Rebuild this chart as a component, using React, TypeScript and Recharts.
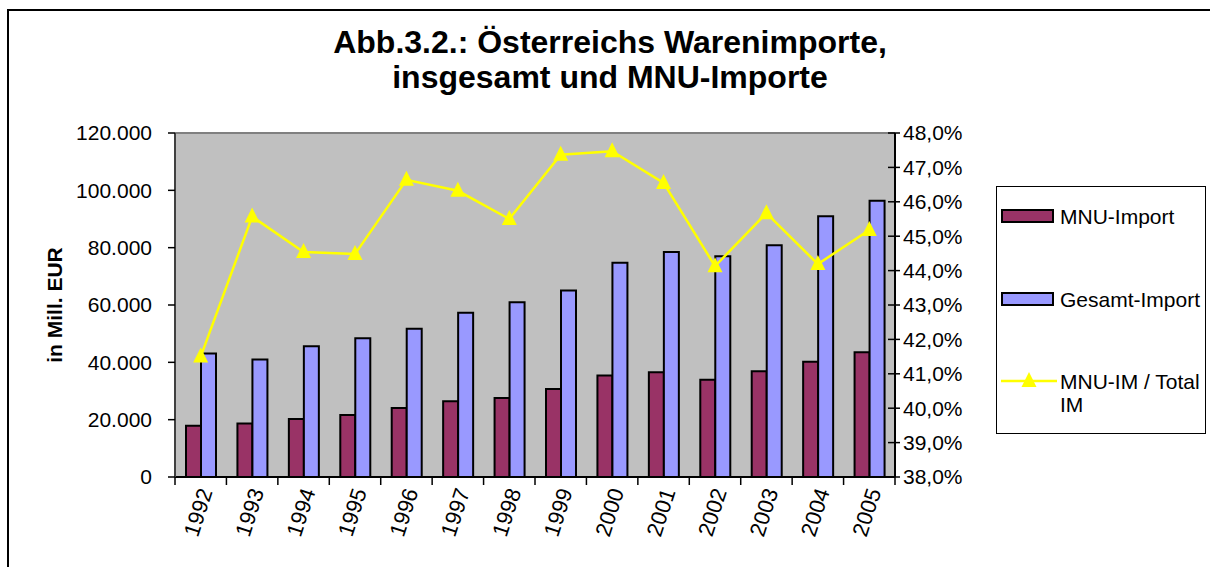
import React from 'react';
import {
  ComposedChart,
  Bar,
  Line,
  XAxis,
  YAxis,
  CartesianGrid,
  ReferenceLine,
  Legend,
} from 'recharts';

const years = ['1992', '1993', '1994', '1995', '1996', '1997', '1998', '1999', '2000', '2001', '2002', '2003', '2004', '2005'];
const mnuImport = [17900, 18700, 20200, 21600, 24100, 26400, 27600, 30700, 35400, 36500, 33900, 36900, 40200, 43500];
const gesamtImport = [43100, 41000, 45600, 48400, 51700, 57300, 61000, 65100, 74700, 78500, 77000, 80800, 91000, 96400];
const mnuShare = [41.5, 45.57, 44.54, 44.48, 46.64, 46.32, 45.5, 47.37, 47.47, 46.55, 44.13, 45.67, 44.19, 45.18];
const leftTicks = [0, 20000, 40000, 60000, 80000, 100000, 120000];
const rightTicks = [38, 39, 40, 41, 42, 43, 44, 45, 46, 47, 48];

const data = years.map((year, i) => ({
  year,
  mnu: mnuImport[i],
  gesamt: gesamtImport[i],
  share: mnuShare[i],
}));

const FONT = '"Liberation Sans", Arial, sans-serif';
const PLOT_W = 720;

const fmtThousands = (v: number) => String(v).replace(/\B(?=(\d{3})+(?!\d))/g, '.');
const fmtPercent = (v: number) => v.toFixed(1).replace('.', ',') + '%';

const YearTick = (props: any) => {
  const { x, y, payload, index, visibleTicksCount } = props;
  const count = visibleTicksCount || years.length;
  const band = (typeof props.width === 'number' ? props.width : PLOT_W) / count;
  const left = x - band / 2;
  const right = x + band / 2;
  const ax = x + 5;
  const ay = y + 12;
  return (
    <g>
      <line x1={left} x2={left} y1={y} y2={y + 8} stroke="#000" strokeWidth={1.5} />
      {index === count - 1 && (
        <line x1={right} x2={right} y1={y} y2={y + 8} stroke="#000" strokeWidth={1.5} />
      )}
      <text
        x={ax}
        y={ay}
        transform={`rotate(-72, ${ax}, ${ay})`}
        textAnchor="end"
        dominantBaseline="central"
        fontSize={22}
        fontFamily={FONT}
        fill="#000"
      >
        {payload.value}
      </text>
    </g>
  );
};

// right axis: tick crosses the axis line like in the original spreadsheet chart
const PercentTick = (props: any) => {
  const { x, y, payload } = props;
  const axisX = x - 8;
  return (
    <g>
      <line x1={axisX - 7} x2={axisX} y1={y} y2={y} stroke="#000" strokeWidth={1.5} />
      <text x={x} y={y} dy="0.355em" textAnchor="start" fontSize={21} fontFamily={FONT} fill="#000">
        {fmtPercent(payload.value)}
      </text>
    </g>
  );
};

const Triangle = (props: any) => {
  const { cx, cy, index } = props;
  if (cx == null || cy == null) return null;
  return (
    <polygon
      key={`tri-${index}`}
      points={`${cx},${cy - 9} ${cx + 7.5},${cy + 6} ${cx - 7.5},${cy + 6}`}
      fill="#FFFF00"
    />
  );
};

const AxisTitle = (props: any) => {
  const vb = props.viewBox || { x: 0, y: 133, width: 175, height: 344 };
  const cx = vb.x + 62;
  const cy = vb.y + vb.height / 2;
  return (
    <text
      x={cx}
      y={cy}
      transform={`rotate(-90, ${cx}, ${cy})`}
      textAnchor="middle"
      fontSize={21}
      fontWeight="bold"
      fontFamily={FONT}
      fill="#000"
    >
      in Mill. EUR
    </text>
  );
};

const legendItems = [
  { label: 'MNU-Import', kind: 'bar', color: '#993366', top: 29 },
  { label: 'Gesamt-Import', kind: 'bar', color: '#9999FF', top: 112 },
  { label: 'MNU-IM / Total\nIM', kind: 'line', color: '#FFFF00', top: 194 },
];

const LegendBox = () => (
  <div
    style={{
      position: 'relative',
      width: 210,
      height: 248,
      boxSizing: 'border-box',
      border: '1px solid #000',
      background: '#fff',
      fontFamily: FONT,
      fontSize: 21,
      color: '#000',
    }}
  >
    {legendItems.map((item) => (
      <div key={item.label} style={{ position: 'absolute', left: 0, top: item.top - 11, width: '100%' }}>
        {item.kind === 'bar' ? (
          <div
            style={{
              position: 'absolute',
              left: 4,
              top: 4,
              width: 53,
              height: 14,
              boxSizing: 'border-box',
              border: '2px solid #000',
              background: item.color,
            }}
          />
        ) : (
          <svg style={{ position: 'absolute', left: 3, top: 1 }} width={58} height={20}>
            <line x1={1} x2={57} y1={10} y2={10} stroke={item.color} strokeWidth={2.5} />
            <polygon points="29,1 36.5,16 21.5,16" fill={item.color} />
          </svg>
        )}
        <div style={{ position: 'absolute', left: 63, top: 0, lineHeight: '23px', whiteSpace: 'pre' }}>
          {item.label}
        </div>
      </div>
    ))}
  </div>
);

export default function App() {
  return (
    <div style={{ position: 'absolute', left: 0, top: 0, width: 1210, height: 567, overflow: 'hidden', background: '#fff' }}>
      <div
        style={{
          position: 'absolute',
          left: 7,
          top: 9,
          width: 1220,
          height: 600,
          borderLeft: '2px solid #000',
          borderTop: '2px solid #000',
        }}
      />
      <div
        style={{
          position: 'absolute',
          left: 0,
          top: 25,
          width: 1220,
          textAlign: 'center',
          fontFamily: FONT,
          fontWeight: 'bold',
          fontSize: 32,
          lineHeight: '35px',
          color: '#000',
        }}
      >
        Abb.3.2.: Österreichs Warenimporte,
        <br />
        insgesamt und MNU-Importe
      </div>
      <ComposedChart
        width={1210}
        height={567}
        data={data}
        margin={{ top: 133, right: 220, bottom: 0, left: 0 }}
        barGap={0}
        style={{ position: 'absolute', left: 0, top: 0 }}
      >
        <CartesianGrid fill="#C0C0C0" fillOpacity={1} horizontal={false} vertical={false} />
        <XAxis
          dataKey="year"
          height={90}
          interval={0}
          tickSize={0}
          tickMargin={0}
          tickLine={false}
          axisLine={{ stroke: '#000', strokeWidth: 2 }}
          tick={<YearTick />}
        />
        <YAxis
          width={175}
          domain={[0, 120000]}
          ticks={leftTicks}
          interval={0}
          tickFormatter={fmtThousands}
          tickSize={7}
          tickMargin={16}
          tickLine={{ stroke: '#000', strokeWidth: 1.5 }}
          axisLine={{ stroke: '#404040', strokeWidth: 2 }}
          tick={{ fontSize: 21, fontFamily: FONT, fill: '#000' }}
          label={AxisTitle}
        />
        <YAxis
          yAxisId="right"
          orientation="right"
          width={95}
          domain={[38, 48]}
          ticks={rightTicks}
          interval={0}
          tickSize={5}
          tickMargin={3}
          tickLine={{ stroke: '#000', strokeWidth: 1.5 }}
          axisLine={{ stroke: '#000', strokeWidth: 2 }}
          tick={<PercentTick />}
        />
        <ReferenceLine y={120000} stroke="#808080" strokeWidth={2} />
        <Bar dataKey="mnu" name="MNU-Import" fill="#993366" stroke="#000" strokeWidth={2} barSize={15} isAnimationActive={false} />
        <Bar dataKey="gesamt" name="Gesamt-Import" fill="#9999FF" stroke="#000" strokeWidth={2} barSize={15} isAnimationActive={false} />
        <Line
          yAxisId="right"
          dataKey="share"
          name="MNU-IM / Total IM"
          stroke="#FFFF00"
          strokeWidth={2.5}
          dot={<Triangle />}
          activeDot={false}
          isAnimationActive={false}
        />
        <Legend
          layout="vertical"
          align="center"
          verticalAlign="middle"
          content={<LegendBox />}
          wrapperStyle={{ position: 'absolute', left: 996, top: 186, width: 210, height: 248 }}
        />
      </ComposedChart>
    </div>
  );
}
